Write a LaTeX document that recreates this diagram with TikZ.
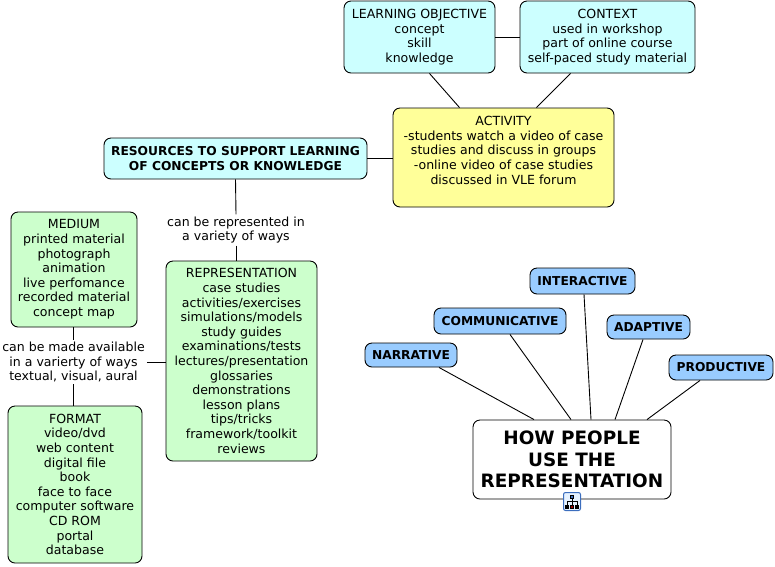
\documentclass[tikz,border=0pt]{standalone}
\usepackage{fontspec}
\setmainfont{DejaVu Sans}
\usetikzlibrary{positioning,calc}
\definecolor{boxcyan}{RGB}{204,255,255}
\definecolor{boxyellow}{RGB}{255,255,153}
\definecolor{boxgreen}{RGB}{204,255,204}
\definecolor{boxblue}{RGB}{153,204,255}
\definecolor{iconblue}{RGB}{60,110,190}
\tikzset{
  topic/.style={draw=black, line width=0.9pt, rounded corners=7pt, align=center, inner sep=0pt,
    font=\fontsize{12.55}{14.6}\selectfont},
  heading/.style={topic, font=\fontsize{12.25}{14.6}\selectfont\bfseries},
  label/.style={align=center, inner sep=2pt, font=\fontsize{12.55}{14.6}\selectfont},
  link/.style={draw=black, line width=0.9pt}
}
\begin{document}
\begin{tikzpicture}[x=1pt,y=-1pt]
\useasboundingbox (0,0) rectangle (775,566);

% Top of the map
\node[topic, fill=boxcyan, minimum width=151pt, minimum height=72pt] (objective) at (419.5,37)
  {LEARNING OBJECTIVE\\concept\\skill\\knowledge};
\node[topic, fill=boxcyan, minimum width=175pt, minimum height=72pt] (context) at (607.5,37)
  {CONTEXT\\used in workshop\\part of online course\\self-paced study material};
\node[topic, fill=boxyellow, minimum width=221pt, minimum height=99pt] (activity) at (503.5,157.5)
  {ACTIVITY\\-students watch a video of case\\studies and discuss in groups\\-online video of case studies\\discussed in VLE forum\\~};
\node[heading, fill=boxcyan, minimum width=263pt, minimum height=41pt] (resources) at (235.5,158.5)
  {RESOURCES TO SUPPORT LEARNING\\OF CONCEPTS OR KNOWLEDGE};

% Left branch
\node[label] (replabel) at (236,230) {can be represented in\\a variety of ways};
\node[topic, fill=boxgreen, minimum width=151pt, minimum height=200pt] (representation) at (241.5,361)
  {REPRESENTATION\\case studies\\activities/exercises\\simulations/models\\study guides\\examinations/tests\\lectures/presentation\\glossaries\\demonstrations\\lesson plans\\tips/tricks\\framework/toolkit\\reviews};
\node[topic, fill=boxgreen, minimum width=126pt, minimum height=115pt] (medium) at (74,269.5)
  {MEDIUM\\printed material\\photograph\\animation\\live perfomance\\recorded material\\concept map};
\node[label] (madelabel) at (73.5,362) {can be made available\\in a varierty of ways\\textual, visual, aural};
\node[topic, fill=boxgreen, minimum width=134pt, minimum height=157pt] (format) at (75,484.5)
  {FORMAT\\video/dvd\\web content\\digital file\\book\\face to face\\computer software\\CD ROM\\portal\\database};

% Right branch
\node[topic, fill=white, minimum width=198pt, minimum height=79pt,
  font=\fontsize{18.4}{21.5}\selectfont\bfseries] (people) at (572,459.5)
  {HOW PEOPLE\\USE THE\\REPRESENTATION};
\node[heading, fill=boxblue, minimum width=92pt, minimum height=24pt] (narrative) at (411,355) {NARRATIVE};
\node[heading, fill=boxblue, minimum width=132pt, minimum height=26pt] (communicative) at (500,321) {COMMUNICATIVE};
\node[heading, fill=boxblue, minimum width=105pt, minimum height=26pt] (interactive) at (582.5,281) {INTERACTIVE};
\node[heading, fill=boxblue, minimum width=83pt, minimum height=24pt] (adaptive) at (648.5,327) {ADAPTIVE};
\node[heading, fill=boxblue, minimum width=104pt, minimum height=25pt] (productive) at (721,367.5) {PRODUCTIVE};

% Connectors
\draw[link] (objective.east) -- (context.west);
\draw[link] ([xshift=10pt]objective.south) -- ([xshift=-44pt]activity.north);
\draw[link] ([xshift=-37pt]context.south) -- ([xshift=33pt]activity.north);
\draw[link] (resources.east) -- (activity.west |- resources.east);
\draw[link] (resources.south) -- (replabel.north);
\draw[link] (replabel.south) -- (representation.north -| replabel.south);
\draw[link] (medium.south -| madelabel.north) -- (madelabel.north);
\draw[link] (madelabel.south) -- (format.north -| madelabel.south);
\draw[link] (madelabel.east) -- (representation.west |- madelabel.east);
\draw[link] ([xshift=28pt]narrative.south) -- ([xshift=-38pt]people.north);
\draw[link] ([xshift=10pt]communicative.south) -- ([xshift=-1pt]people.north);
\draw[link] ([xshift=1.5pt]interactive.south) -- ([xshift=19pt]people.north);
\draw[link] ([xshift=-5.5pt]adaptive.south) -- ([xshift=43pt]people.north);
\draw[link] ([xshift=-21pt]productive.south) -- ([xshift=75pt]people.north);

% Map icon
\node[draw=iconblue, fill=boxblue!25, rounded corners=2pt, line width=1pt, minimum width=17pt, minimum height=18pt, inner sep=0pt] (icon) at (572,501.5) {};
\draw[line width=0.6pt, fill=iconblue] (570.5,495) rectangle (573.5,498);
\draw[line width=0.6pt] (572,498) -- (572,505);
\draw[line width=0.6pt] (567,505) -- (567,501) -- (577,501) -- (577,505);
\draw[line width=0.6pt, fill=red!60!black] (570.5,505) rectangle (573.5,508);
\draw[line width=0.6pt, fill=black] (565.5,505) rectangle (568.5,508);
\draw[line width=0.6pt, fill=black] (575.5,505) rectangle (578.5,508);
\end{tikzpicture}
\end{document}
